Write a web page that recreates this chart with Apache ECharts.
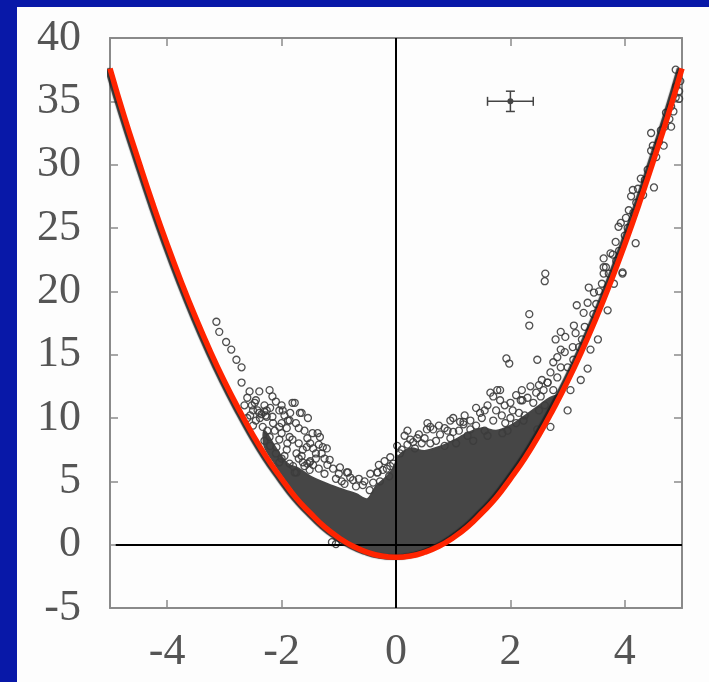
<!DOCTYPE html>
<html>
<head>
<meta charset="utf-8">
<script src="https://cdn.jsdelivr.net/npm/echarts@6/dist/echarts.min.js"></script>
<style>
  html, body { margin: 0; padding: 0; background: #0818a8; }
  #chart { width: 709px; height: 682px; }
</style>
</head>
<body>
<div id="chart"></div>
<script>
// Axis ticks
const xTicks = [-4, -2, 0, 2, 4];

// Fitted curve
const fitX = [-5, -4.75, -4.5, -4.25, -4, -3.75, -3.5, -3.25, -3, -2.75, -2.5, -2.25, -2, -1.75, -1.5, -1.25, -1, -0.75, -0.5, -0.25,
  0, 0.25, 0.5, 0.75, 1, 1.25, 1.5, 1.75, 2, 2.25, 2.5, 2.75, 3, 3.25, 3.5, 3.75, 4, 4.25, 4.5, 4.75, 5];
const fitY = [37.6, 33.8, 30.3, 26.9, 23.7, 20.7, 17.9, 15.3, 12.9, 10.7, 8.65, 6.8, 5.2, 3.7, 2.5, 1.4, 0.55, -0.13, -0.6, -0.9,
  -1.0, -0.9, -0.6, -0.13, 0.55, 1.4, 2.5, 3.7, 5.2, 6.8, 8.65, 10.7, 12.9, 15.3, 17.9, 20.7, 23.7, 26.9, 30.3, 33.8, 37.6];

// Outline of the densely packed bulk of the data (lower edge left->right, then upper edge right->left)
const denseX = [-2.3, -2.1, -1.9, -1.6, -1.3, -1.0, -0.8, -0.6, -0.4, -0.2, 0, 0.2, 0.4, 0.6, 0.8, 1.0, 1.3, 1.6, 1.9, 2.2, 2.5, 2.9,
  2.9, 2.7, 2.45, 2.2, 2.0, 1.75, 1.5, 1.25, 1.0, 0.8, 0.5, 0.25, 0.05, -0.05, -0.2, -0.35, -0.5, -0.7, -0.9, -1.2, -1.5, -1.7, -1.9, -2.1, -2.3];
const denseY = [7.8, 6.3, 5.0, 3.2, 1.8, 0.75, 0.1, -0.35, -0.65, -0.85, -0.9, -0.85, -0.65, -0.35, 0.05, 0.55, 1.6, 2.9, 4.5, 6.4, 8.5, 11.9,
  11.9, 11.6, 10.8, 10.0, 9.4, 9.0, 9.2, 8.8, 8.2, 7.8, 7.4, 7.6, 7.0, 6.0, 5.2, 4.6, 3.6, 4.0, 4.3, 4.8, 5.4, 6.0, 6.4, 7.6, 9.0];

// Individual points, left branch
const leftPts = [
  [-3.14, 17.6], [-3.09, 16.8], [-2.97, 16.0], [-2.88, 15.4], [-2.79, 14.6], [-2.70, 14.0], [-2.70, 12.8],
  [-2.56, 12.1], [-2.39, 12.1], [-2.21, 12.2], [-2.16, 11.7], [-2.47, 11.2], [-2.39, 10.4], [-2.26, 10.1],
  [-2.04, 10.6], [-1.77, 11.2], [-1.65, 10.4], [-1.54, 10.0], [-1.86, 9.8], [-1.91, 9.2], [-2.33, 9.3],
  [-2.21, 8.5], [-2.04, 8.3], [-1.86, 8.5], [-1.46, 8.8], [-1.33, 8.5], [-2.09, 7.7], [-1.91, 7.5],
  [-1.74, 7.2], [-1.56, 7.7], [-1.28, 7.7], [-2.04, 6.5], [-1.86, 6.4], [-1.51, 6.5], [-1.16, 6.7],
  [-1.77, 5.7], [-0.86, 5.7], [-0.33, 5.7], [-1.81, 11.2], [-1.68, 10.4], [-1.37, 8.8], [-1.21, 7.6],
  [-0.98, 6.1], [-0.84, 5.7], [-0.75, 5.1], [-0.58, 4.7], [-0.46, 4.3], [-0.32, 5.7], [-0.16, 6.0],
  [-0.28, 5.0], [-1.89, 9.8], [-1.98, 10.6], [-2.04, 9.3], [-2.16, 10.1], [-2.26, 10.6], [-1.81, 8.3],
  [-1.63, 7.5], [-1.74, 5.7], [-1.63, 6.5], [-1.51, 5.9], [-2.35, 10.3], [-2.30, 10.5], [-2.38, 10.0],
  [-2.28, 10.2], [-2.42, 10.6], [-1.55, 6.4], [-1.50, 6.6], [-1.60, 6.2], [-1.45, 6.3], [-1.12, 0.2],
  [-1.05, 0.05], [-0.23, 5.9], [-0.12, 5.4], [-0.05, 6.4], [-2.52, 11.0], [-2.45, 9.8], [-2.12, 9.0],
  [-1.95, 7.0], [-1.40, 7.2], [-1.05, 5.2], [-0.70, 4.6], [-2.60, 11.6], [-2.00, 9.6], [-1.70, 8.0],
  [-2.55, 10.2], [-2.50, 10.6], [-2.45, 11.4], [-2.30, 11.0], [-2.20, 10.8], [-2.10, 11.3], [-2.00, 11.0],
  [-1.95, 10.2], [-1.85, 10.4], [-1.75, 9.6], [-1.70, 9.2], [-1.60, 9.0], [-1.55, 8.4], [-1.50, 8.0],
  [-1.45, 7.6], [-1.35, 7.9], [-1.30, 7.2], [-1.25, 6.8], [-1.20, 6.3], [-1.10, 6.0], [-1.00, 5.6],
  [-0.95, 5.0], [-0.90, 4.8], [-0.80, 5.3], [-0.65, 5.2], [-0.55, 5.0], [-0.45, 5.6], [-0.40, 4.9],
  [-0.30, 6.3], [-0.20, 6.6], [-0.10, 6.2], [-2.15, 9.6], [-2.25, 9.0], [-2.00, 8.8], [-1.90, 8.0],
  [-2.10, 7.2], [-2.00, 6.8], [-1.80, 6.2], [-1.70, 6.8], [-1.65, 7.0], [-1.40, 6.8], [-1.35, 6.0],
  [-1.25, 5.6], [-2.20, 7.8], [-2.30, 8.2], [-2.50, 9.4], [-2.60, 10.0], [-2.65, 11.0]
];

// Individual points, right of centre
const midPts = [
  [0.25, 8.3], [0.37, 8.4], [0.54, 9.1], [0.65, 9.1], [0.77, 8.7], [0.60, 8.0], [1.00, 8.9], [1.12, 9.7],
  [1.18, 9.5], [1.30, 9.1], [1.47, 10.4], [1.65, 12.0], [1.77, 12.2], [1.82, 11.4], [1.70, 9.8], [1.91, 9.6],
  [1.86, 8.8], [2.04, 10.6], [2.18, 11.4], [2.35, 12.5], [2.40, 11.2], [2.58, 12.2], [2.65, 12.8], [2.75, 12.2],
  [2.47, 9.1], [2.23, 9.8], [0.07, 7.2], [-0.10, 6.9], [0.10, 7.5], [0.20, 7.9], [0.33, 7.6], [0.45, 8.0],
  [0.70, 8.2], [0.85, 7.8], [0.95, 8.4], [1.05, 8.0], [1.25, 8.6], [1.35, 8.2], [1.55, 9.0], [1.60, 8.6],
  [1.95, 9.0], [2.10, 9.6], [2.25, 10.2], [2.50, 10.6], [2.60, 11.0], [2.15, 10.4], [1.40, 9.4], [0.90, 9.0],
  [1.70, 11.7], [2.00, 11.2], [2.21, 11.4], [2.53, 11.7], [1.18, 9.7], [1.82, 12.2], [2.70, 9.3],
  [0.15, 8.6], [0.30, 8.1], [0.40, 8.7], [0.50, 8.4], [0.60, 9.3], [0.75, 9.4], [0.85, 9.2], [0.95, 9.8],
  [1.10, 9.0], [1.20, 10.2], [1.30, 9.8], [1.40, 10.8], [1.50, 10.0], [1.55, 10.6], [1.60, 11.0], [1.75, 10.6],
  [1.85, 10.2], [1.90, 11.0], [2.00, 10.0], [2.10, 11.8], [2.20, 12.2], [2.30, 11.6], [2.45, 12.0], [2.50, 12.6],
  [2.55, 13.0], [1.00, 10.0], [0.55, 9.6], [0.20, 9.0], [0.02, 7.8]
];

// Individual points, right branch
const rightPts = [
  [2.61, 21.4], [2.60, 20.8], [2.33, 18.2], [2.33, 17.3], [1.93, 14.7], [1.98, 14.3], [2.47, 14.6],
  [2.65, 12.8], [2.82, 13.2], [2.88, 14.0], [2.82, 14.8], [2.88, 15.4], [2.79, 16.2], [2.88, 16.8],
  [2.96, 16.4], [3.14, 16.7], [3.09, 15.6], [3.11, 17.3], [3.16, 18.9], [3.28, 18.3], [3.35, 19.1],
  [3.37, 20.3], [3.46, 19.9], [3.53, 16.2], [3.40, 15.4], [3.35, 13.9], [3.23, 13.0], [3.05, 12.2],
  [3.00, 10.6], [3.70, 18.5], [3.67, 21.9], [3.63, 21.4], [3.81, 20.6], [3.96, 21.4], [3.79, 22.9],
  [4.19, 23.8], [4.89, 37.5], [4.95, 35.8], [4.89, 35.3], [4.95, 35.2], [4.81, 34.6], [4.72, 34.1],
  [4.81, 33.0], [4.46, 32.5], [4.63, 32.7], [4.68, 31.5], [4.49, 31.5], [4.46, 31.1], [4.51, 28.2],
  [4.28, 28.9], [4.23, 28.1], [4.14, 28.0], [4.11, 27.5], [4.32, 27.6], [4.07, 26.4], [4.02, 25.8],
  [3.93, 25.4], [3.89, 25.1], [3.84, 23.9], [3.75, 23.0], [3.63, 22.6], [3.63, 21.9], [3.96, 21.5],
  [2.70, 13.6], [2.75, 14.4], [2.95, 15.2], [3.00, 14.0], [3.10, 14.6], [3.20, 15.6], [3.25, 16.2],
  [3.30, 17.2], [3.45, 18.2], [3.50, 19.0], [3.55, 20.0], [3.60, 20.6], [3.72, 21.4], [3.85, 22.4],
  [3.90, 23.2], [4.00, 24.4], [4.05, 25.0], [4.15, 26.2], [4.20, 27.0], [4.35, 28.8], [4.40, 29.6],
  [4.55, 30.6], [4.60, 31.8], [4.70, 33.0], [4.78, 33.6], [4.85, 34.2], [4.90, 36.2], [4.97, 36.6]
];

// Representative error bar
const errPoint = [2, 35];
const errSize = [0.4, 0.8];

const fitData = fitX.map((x, i) => [x, fitY[i]]);
const axisGray = '#8a8a8a';
const labelFont = { fontFamily: 'Liberation Serif', fontSize: 44, color: '#555' };

const chart = echarts.init(document.getElementById('chart'), null, { renderer: 'canvas' });

chart.setOption({
  backgroundColor: '#0818a8',
  animation: false,
  graphic: [{
    type: 'rect', z: -10, silent: true,
    shape: { x: 17, y: 7, width: 692, height: 675 },
    style: { fill: '#fdfdfd' }
  }],
  grid: { left: 110, right: 27, top: 38, bottom: 74 },
  xAxis: [{
    type: 'value', min: -5, max: 5, position: 'bottom',
    axisLine: { show: true, onZero: false, lineStyle: { color: axisGray, width: 2 } },
    axisTick: { show: true, inside: true, length: 8, customValues: xTicks, lineStyle: { color: axisGray, width: 1.5 } },
    axisLabel: Object.assign({ margin: 22, customValues: xTicks }, labelFont),
    splitLine: { show: false }
  }, {
    type: 'value', min: -5, max: 5, position: 'top',
    axisLine: { show: true, onZero: false, lineStyle: { color: axisGray, width: 2 } },
    axisTick: { show: true, inside: true, length: 8, customValues: xTicks, lineStyle: { color: axisGray, width: 1.5 } },
    axisLabel: { show: false },
    splitLine: { show: false }
  }],
  yAxis: [{
    type: 'value', min: -5, max: 40, interval: 5, position: 'left',
    axisLine: { show: true, onZero: false, lineStyle: { color: axisGray, width: 2 } },
    axisTick: { show: true, inside: true, length: 8, lineStyle: { color: axisGray, width: 1.5 } },
    axisLabel: Object.assign({ margin: 29 }, labelFont),
    splitLine: { show: false }
  }, {
    type: 'value', min: -5, max: 40, interval: 5, position: 'right',
    axisLine: { show: true, onZero: false, lineStyle: { color: axisGray, width: 2 } },
    axisTick: { show: true, inside: true, length: 8, lineStyle: { color: axisGray, width: 1.5 } },
    axisLabel: { show: false },
    splitLine: { show: false }
  }],
  series: [
    {
      // dense bulk of the distribution
      type: 'custom', z: 2, silent: true,
      data: [[0, 0]],
      renderItem: function (params, api) {
        const pts = denseX.map((x, i) => api.coord([x, denseY[i]]));
        return {
          type: 'polygon',
          shape: { points: pts, smooth: 0.3 },
          style: { fill: '#464646', stroke: '#464646', lineWidth: 2 }
        };
      }
    },
    {
      type: 'scatter', z: 3, silent: true,
      data: leftPts.concat(midPts, rightPts),
      symbol: 'circle', symbolSize: 7,
      itemStyle: { color: 'rgba(0,0,0,0)', borderColor: '#3c3c3c', borderWidth: 1.3, opacity: 0.9 },
      markLine: {
        silent: true, symbol: ['none', 'none'], label: { show: false },
        lineStyle: { color: '#000', width: 2, type: 'solid' },
        data: [
          [{ coord: [-4.9, 0] }, { coord: [5, 0] }],
          [{ coord: [0, -5] }, { coord: [0, 40] }]
        ]
      }
    },
    {
      type: 'line', z: 5, silent: true,
      data: fitData, smooth: true, showSymbol: false,
      lineStyle: {
        color: '#ff2400', width: 5.5,
        shadowColor: 'rgba(30,30,30,0.9)', shadowOffsetX: -2.5, shadowOffsetY: 0, shadowBlur: 1
      }
    },
    {
      // error bar marker
      type: 'custom', z: 6, silent: true,
      data: [[errPoint[0], errPoint[1], errSize[0], errSize[1]]],
      renderItem: function (params, api) {
        const x = api.value(0), y = api.value(1), ex = api.value(2), ey = api.value(3);
        const c = api.coord([x, y]);
        const l = api.coord([x - ex, y]), r = api.coord([x + ex, y]);
        const t = api.coord([x, y + ey]), b = api.coord([x, y - ey]);
        const st = { stroke: '#444', lineWidth: 1.5 };
        const cap = 4.5;
        return {
          type: 'group',
          children: [
            { type: 'line', shape: { x1: l[0], y1: l[1], x2: r[0], y2: r[1] }, style: st },
            { type: 'line', shape: { x1: t[0], y1: t[1], x2: b[0], y2: b[1] }, style: st },
            { type: 'line', shape: { x1: l[0], y1: l[1] - cap, x2: l[0], y2: l[1] + cap }, style: st },
            { type: 'line', shape: { x1: r[0], y1: r[1] - cap, x2: r[0], y2: r[1] + cap }, style: st },
            { type: 'line', shape: { x1: t[0] - cap, y1: t[1], x2: t[0] + cap, y2: t[1] }, style: st },
            { type: 'line', shape: { x1: b[0] - cap, y1: b[1], x2: b[0] + cap, y2: b[1] }, style: st },
            { type: 'circle', shape: { cx: c[0], cy: c[1], r: 3 }, style: { fill: '#444' } }
          ]
        };
      }
    }
  ]
});
</script>
</body>
</html>
